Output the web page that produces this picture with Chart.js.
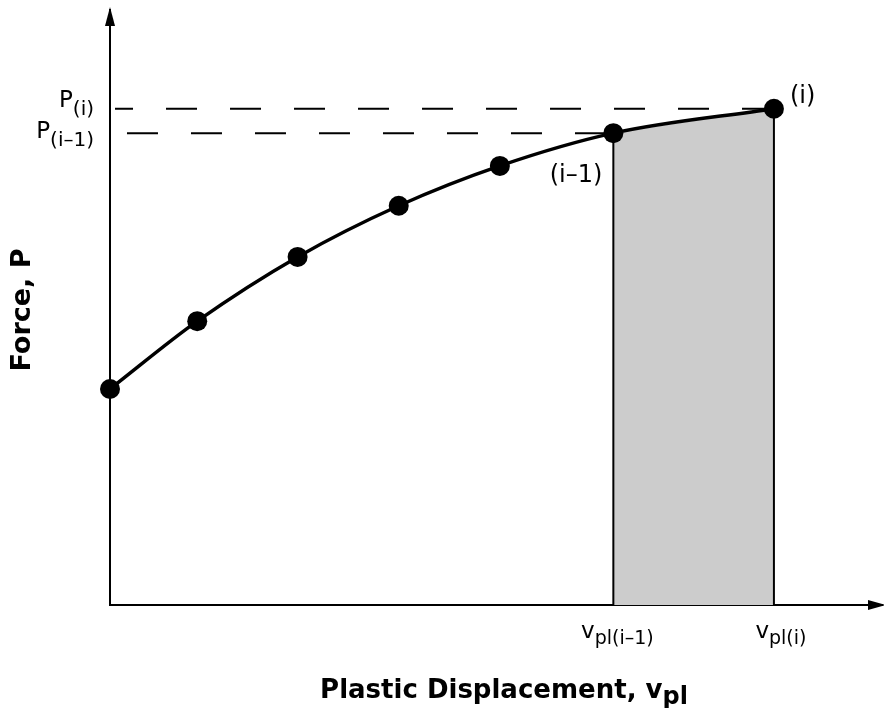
<!DOCTYPE html>
<html>
<head>
<meta charset="utf-8">
<script src="https://cdn.jsdelivr.net/npm/chart.js@4/dist/chart.umd.min.js"></script>
<style>
  html, body { margin: 0; padding: 0; background: #fff; }
  canvas { display: block; }
</style>
</head>
<body>
<canvas id="grafica" width="884" height="708"></canvas>
<script>
// Puntos de la curva fuerza / desplazamiento plástico (unidades arbitrarias)
const desplazamientos = [0, 1.13, 2.43, 3.74, 5.05, 6.52, 8.60];
const fuerzas = [3.63, 4.77, 5.85, 6.71, 7.38, 7.93, 8.34];

// Índices de los puntos (i-1) e (i)
const idxPrevio = 5;
const idxActual = 6;

// Etiquetas
const tituloX = 'Plastic Displacement, v';
const subX = 'pl';
const tituloY = 'Force, P';

const FUENTE = '"DejaVu Sans", Verdana, sans-serif';

const curva = desplazamientos.map((x, k) => ({ x, y: fuerzas[k] }));
const xPrev = desplazamientos[idxPrevio], yPrev = fuerzas[idxPrevio];
const xAct = desplazamientos[idxActual], yAct = fuerzas[idxActual];

// ── Plugin: flechas de los ejes y textos con subíndices ──
const anotaciones = {
  id: 'anotaciones',
  afterDraw(chart) {
    const { ctx, chartArea: a, scales: { x, y } } = chart;
    ctx.save();
    ctx.fillStyle = '#000';

    // flecha eje Y
    ctx.beginPath();
    ctx.moveTo(a.left, a.top - 3);
    ctx.lineTo(a.left - 5, a.top + 16);
    ctx.lineTo(a.left + 5, a.top + 16);
    ctx.closePath();
    ctx.fill();
    // flecha eje X
    ctx.beginPath();
    ctx.moveTo(a.right + 4, a.bottom);
    ctx.lineTo(a.right - 14, a.bottom - 5);
    ctx.lineTo(a.right - 14, a.bottom + 5);
    ctx.closePath();
    ctx.fill();

    // texto con subíndice
    function sub(base, s, px, py, align, size, sizeSub, bajada, bold) {
      const peso = bold ? 'bold ' : '';
      ctx.font = peso + size + 'px ' + FUENTE;
      const wb = ctx.measureText(base).width;
      ctx.font = peso + sizeSub + 'px ' + FUENTE;
      const ws = ctx.measureText(s).width;
      let x0 = px;
      if (align === 'right') x0 = px - wb - ws;
      if (align === 'center') x0 = px - (wb + ws) / 2;
      ctx.textAlign = 'left';
      ctx.textBaseline = 'alphabetic';
      ctx.font = peso + size + 'px ' + FUENTE;
      ctx.fillText(base, x0, py);
      ctx.font = peso + sizeSub + 'px ' + FUENTE;
      ctx.fillText(s, x0 + wb, py + bajada);
    }

    // etiquetas del eje Y
    sub('P', '(i)', a.left - 16, y.getPixelForValue(yAct) - 2, 'right', 23, 20, 8, false);
    sub('P', '(i\u20131)', a.left - 16, y.getPixelForValue(yPrev) + 5, 'right', 23, 20, 8, false);

    // etiquetas del eje X
    sub('v', 'pl(i\u20131)', x.getPixelForValue(xPrev) + 4, a.bottom + 33, 'center', 23, 19, 6, false);
    sub('v', 'pl(i)', x.getPixelForValue(xAct) + 7, a.bottom + 33, 'center', 23, 19, 6, false);

    // etiquetas de los puntos
    ctx.font = '24px ' + FUENTE;
    ctx.textAlign = 'left';
    ctx.textBaseline = 'middle';
    ctx.fillText('(i)', x.getPixelForValue(xAct) + 16, y.getPixelForValue(yAct) - 12);
    ctx.textAlign = 'right';
    ctx.fillText('(i\u20131)', x.getPixelForValue(xPrev) - 11, y.getPixelForValue(yPrev) + 43);

    // títulos de los ejes
    sub(tituloX, subX, 504, 698, 'center', 26, 24, 6, true);
    ctx.translate(23, 310);
    ctx.rotate(-Math.PI / 2);
    ctx.font = 'bold 27px ' + FUENTE;
    ctx.textAlign = 'center';
    ctx.textBaseline = 'middle';
    ctx.fillText(tituloY, 0, 0);

    ctx.restore();
  }
};

new Chart(document.getElementById('grafica'), {
  type: 'scatter',
  data: {
    datasets: [
      // área sombreada bajo la curva entre (i-1) e (i)
      {
        data: [{ x: xPrev, y: yPrev }, { x: xAct, y: yAct }],
        showLine: true,
        fill: 'origin',
        backgroundColor: '#cccccc',
        borderWidth: 0,
        pointRadius: 0,
        order: 5
      },
      // líneas verticales
      {
        data: [{ x: xPrev, y: 0 }, { x: xPrev, y: yPrev }],
        showLine: true, borderColor: '#000', borderWidth: 2, pointRadius: 0, order: 4
      },
      {
        data: [{ x: xAct, y: 0 }, { x: xAct, y: yAct }],
        showLine: true, borderColor: '#000', borderWidth: 2, pointRadius: 0, order: 4
      },
      // líneas discontinuas P(i) y P(i-1)
      {
        data: [{ x: 0.065, y: yAct }, { x: xAct - 0.05, y: yAct }],
        showLine: true, borderColor: '#000', borderWidth: 2,
        borderDash: [31, 33], borderDashOffset: 13, pointRadius: 0, order: 3
      },
      {
        data: [{ x: 0.22, y: yPrev }, { x: xPrev, y: yPrev }],
        showLine: true, borderColor: '#000', borderWidth: 2,
        borderDash: [31, 33], borderDashOffset: 0, pointRadius: 0, order: 3
      },
      // curva
      {
        data: curva,
        showLine: true,
        borderColor: '#000',
        borderWidth: 3.5,
        cubicInterpolationMode: 'monotone',
        pointRadius: 10,
        pointBackgroundColor: '#000',
        pointBorderWidth: 0,
        clip: false,
        order: 1
      }
    ]
  },
  options: {
    responsive: false,
    animation: false,
    events: [],
    layout: { autoPadding: false, padding: { left: 110, right: 2, top: 10, bottom: 103 } },
    plugins: { legend: { display: false }, tooltip: { enabled: false } },
    scales: {
      x: {
        type: 'linear', min: 0, max: 10,
        grid: { display: false, drawTicks: false },
        ticks: { display: false },
        border: { display: true, color: '#000', width: 2 },
        afterFit(s) { s.height = 0; }
      },
      y: {
        type: 'linear', min: 0, max: 10,
        grid: { display: false, drawTicks: false },
        ticks: { display: false },
        border: { display: true, color: '#000', width: 2 },
        afterFit(s) { s.width = 0; }
      }
    }
  },
  plugins: [anotaciones]
});
</script>
</body>
</html>
